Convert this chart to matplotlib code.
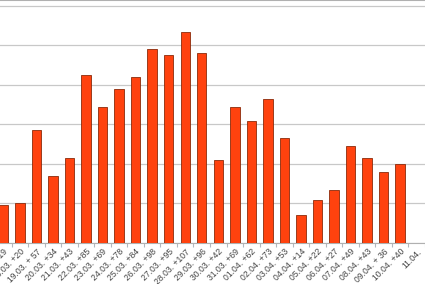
import matplotlib
matplotlib.use("Agg")
import matplotlib.pyplot as plt
import numpy as np

# daily increase, bars labelled "date +N"
labels = [
    "17.03. +19", "18.03. +20", "19.03. + 57", "20.03. +34", "21.03. +43",
    "22.03. +85", "23.03. +69", "24.03. +78", "25.03. +84", "26.03. +98",
    "27.03. +95", "28.03. +107", "29.03. +96", "30.03. +42", "31.03. +69",
    "01.04. +62", "02.04. +73", "03.04. +53", "04.04. +14", "05.04. +22",
    "06.04. +27", "07.04. +49", "08.04. +43", "09.04. + 36", "10.04. +40",
    "11.04.",
]
values = [
    19, 20, 57, 34, 43,
    85, 69, 78, 84, 98,
    95, 107, 96, 42, 69,
    62, 73, 53, 14, 22,
    27, 49, 43, 36, 40,
    np.nan,
]
grid_ticks = [0, 20, 40, 60, 80, 100, 120]

BAR_COLOR = "#ff420e"
EDGE_COLOR = "#8a2a0a"

fig = plt.figure(figsize=(4.25, 2.84), dpi=100)
ax = fig.add_axes([0.0, 41 / 284, 1.0, 1 - 41 / 284])

x = np.arange(len(values))
ax.bar(x, values, width=0.57, color=BAR_COLOR, edgecolor=EDGE_COLOR,
       linewidth=0.6, zorder=3)

ax.set_xlim(-0.2, 24.36)
ax.set_ylim(0, 123)
ax.set_yticks(grid_ticks)
ax.yaxis.grid(True, color="#c8c8c8", linewidth=0.9, zorder=0)
ax.tick_params(axis="y", left=False, labelleft=False)

# category ticks sit between bars, labels under each bar
ax.set_xticks(x + 0.5)
ax.tick_params(axis="x", length=3, color="#b0b8c0", labelbottom=False)
ax.set_xticks(x, minor=True)
ax.set_xticklabels(labels, minor=True, rotation=45, ha="right", va="top",
                   rotation_mode="anchor", fontsize=6.2,
                   family="Liberation Sans", color="#444444")
ax.tick_params(axis="x", which="minor", length=0, pad=3)

for side in ("left", "right"):
    ax.spines[side].set_visible(False)
ax.spines["top"].set_color("#b0b0b0")
ax.spines["top"].set_linewidth(1.5)
ax.spines["bottom"].set_color("#b0b0b0")
ax.spines["bottom"].set_linewidth(0.8)

fig.savefig("out.png", dpi=100)
